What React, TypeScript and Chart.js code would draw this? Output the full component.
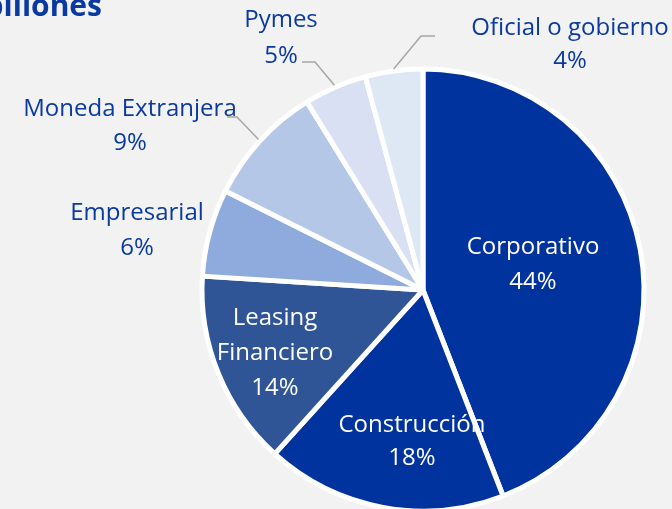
import React, { useEffect, useRef } from "react";
import { Chart, registerables } from "chart.js";

Chart.register(...registerables);

const CATEGORIES = [
  "Corporativo",
  "Construcción",
  "Leasing Financiero",
  "Empresarial",
  "Moneda Extranjera",
  "Pymes",
  "Oficial o gobierno",
];
const VALUES = [44.1, 17.6, 14.3, 6.4, 8.8, 4.6, 4.2];
const PCT_LABELS = ["44%", "18%", "14%", "6%", "9%", "5%", "4%"];
const TITLE = "billones";

const COLORS = ["#00339d", "#00339d", "#2f5597", "#8faadc", "#b4c7e7", "#d9e0f3", "#dee8f5"];
const LABEL_COLOR = "#0a3aa0";
const FONT = '"Open Sans", "Noto Sans", sans-serif';

// label layout: center x, first baseline y, line height, inside?, wrap words?, leader elbow/end
const LAYOUT = [
  { x: 533, y: 254, lh: 35, inside: true },
  { x: 412, y: 432, lh: 33, inside: true },
  { x: 275, y: 325, lh: 35, inside: true, wrap: true },
  { x: 137, y: 220, lh: 35 },
  { x: 130, y: 116, lh: 34, leader: [[237, 117], [227, 117]] },
  { x: 281, y: 27, lh: 36, leader: [[315, 62], [302, 62]] },
  { x: 570, y: 35, lh: 33, leader: [[421, 36], [435, 36]] },
];

const labelPlugin = {
  id: "sliceLabels",
  afterDraw(chart: any) {
    const ctx = chart.ctx as CanvasRenderingContext2D;
    const meta = chart.getDatasetMeta(0);
    ctx.save();
    ctx.font = `bold 30px ${FONT}`;
    ctx.fillStyle = LABEL_COLOR;
    ctx.textAlign = "right";
    ctx.textBaseline = "alphabetic";
    ctx.fillText(TITLE, 102, 16);

    ctx.font = `24px ${FONT}`;
    ctx.textAlign = "center";
    meta.data.forEach((arc: any, i: number) => {
      const lay: any = LAYOUT[i];
      const p = arc.getProps(["x", "y", "startAngle", "endAngle", "outerRadius"], true);
      if (lay.leader) {
        const mid = (p.startAngle + p.endAngle) / 2;
        const r = p.outerRadius + 2;
        ctx.beginPath();
        ctx.moveTo(p.x + Math.cos(mid) * r, p.y + Math.sin(mid) * r);
        ctx.lineTo(lay.leader[0][0], lay.leader[0][1]);
        ctx.lineTo(lay.leader[1][0], lay.leader[1][1]);
        ctx.strokeStyle = "#a6a6a6";
        ctx.lineWidth = 1.5;
        ctx.stroke();
      }
      const lines = (lay.wrap ? CATEGORIES[i].split(" ") : [CATEGORIES[i]]).concat(PCT_LABELS[i]);
      ctx.fillStyle = lay.inside ? "#ffffff" : LABEL_COLOR;
      lines.forEach((t: string, k: number) => ctx.fillText(t, lay.x, lay.y + k * lay.lh));
    });
    ctx.restore();
  },
};

export default function App() {
  const ref = useRef<HTMLCanvasElement>(null);
  useEffect(() => {
    document.body.style.margin = "0";
    const chart = new Chart(ref.current!, {
      type: "pie",
      data: {
        labels: CATEGORIES,
        datasets: [
          {
            data: VALUES,
            backgroundColor: COLORS,
            borderColor: "#ffffff",
            borderWidth: 5,
          },
        ],
      },
      options: {
        responsive: false,
        animation: false,
        radius: 221,
        layout: { padding: { left: 174, right: 0, top: 71, bottom: 0 } },
        plugins: { legend: { display: false }, tooltip: { enabled: false } },
      } as any,
      plugins: [labelPlugin],
    });
    return () => chart.destroy();
  }, []);
  return (
    <div style={{ position: "fixed", left: 0, top: 0, width: 672, height: 509, background: "#f2f2f2" }}>
      <canvas ref={ref} width={672} height={509} style={{ width: 672, height: 509, display: "block" }} />
    </div>
  );
}
